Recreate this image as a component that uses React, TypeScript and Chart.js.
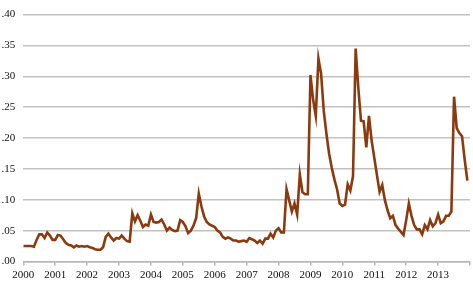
import React, { useEffect, useRef } from "react";
import { Chart, registerables } from "chart.js";

Chart.register(...registerables);

// Monthly values, Jan 2000 .. Dec 2013
const y2000 = [0.025, 0.025, 0.025, 0.025, 0.024, 0.035, 0.044, 0.044, 0.038, 0.047, 0.042, 0.035];
const y2001 = [0.035, 0.043, 0.042, 0.036, 0.030, 0.027, 0.026, 0.023, 0.026, 0.024, 0.025, 0.024];
const y2002 = [0.025, 0.023, 0.022, 0.020, 0.019, 0.019, 0.023, 0.040, 0.045, 0.039, 0.034, 0.038];
const y2003 = [0.037, 0.042, 0.037, 0.033, 0.032, 0.078, 0.065, 0.075, 0.066, 0.056, 0.060, 0.058];
const y2004 = [0.076, 0.064, 0.063, 0.064, 0.068, 0.060, 0.050, 0.055, 0.051, 0.049, 0.050, 0.067];
const y2005 = [0.064, 0.057, 0.046, 0.050, 0.058, 0.070, 0.110, 0.089, 0.073, 0.064, 0.060, 0.058];
const y2006 = [0.056, 0.050, 0.047, 0.040, 0.037, 0.039, 0.037, 0.034, 0.034, 0.032, 0.033, 0.034];
const y2007 = [0.032, 0.038, 0.036, 0.034, 0.030, 0.034, 0.029, 0.037, 0.037, 0.045, 0.039, 0.050];
const y2008 = [0.054, 0.047, 0.047, 0.117, 0.099, 0.081, 0.094, 0.076, 0.141, 0.112, 0.109, 0.109];
const y2009 = [0.302, 0.262, 0.236, 0.329, 0.304, 0.244, 0.207, 0.175, 0.152, 0.133, 0.117, 0.094];
const y2010 = [0.090, 0.092, 0.125, 0.115, 0.138, 0.345, 0.281, 0.228, 0.227, 0.185, 0.236, 0.196];
const y2011 = [0.168, 0.140, 0.113, 0.124, 0.099, 0.083, 0.070, 0.074, 0.059, 0.053, 0.048, 0.043];
const y2012 = [0.067, 0.094, 0.074, 0.059, 0.052, 0.052, 0.044, 0.059, 0.052, 0.067, 0.057, 0.062];
const y2013 = [0.076, 0.062, 0.065, 0.074, 0.074, 0.081, 0.267, 0.216, 0.208, 0.203, 0.165, 0.131];

const startYear = 2000;
const endYear = 2014;
const yearValues = [y2000, y2001, y2002, y2003, y2004, y2005, y2006, y2007, y2008, y2009, y2010, y2011, y2012, y2013];
const yTickMax = 0.4;
const yTickStep = 0.05;

export default function App() {
  const ref = useRef<HTMLCanvasElement | null>(null);

  useEffect(() => {
    document.body.style.margin = "0";
    const canvas = ref.current;
    if (!canvas) return;
    const values = yearValues.flat();
    const points = values.map((v, i) => ({ x: startYear + i / 12, y: v }));
    const font = { family: "'Liberation Serif', 'Times New Roman', serif", size: 11 };
    const chart = new Chart(canvas, {
      type: "line",
      data: {
        datasets: [
          {
            data: points,
            borderColor: "#8B3A0F",
            borderWidth: 2.6,
            pointRadius: 0,
            tension: 0,
            fill: false,
          },
        ],
      },
      options: {
        animation: false,
        responsive: false,
        devicePixelRatio: 1,
        parsing: false as any,
        layout: { padding: { top: 7, right: 1.7, left: 0, bottom: 0 } },
        plugins: { legend: { display: false }, tooltip: { enabled: false } },
        scales: {
          x: {
            type: "linear",
            min: startYear,
            max: endYear,
            ticks: {
              stepSize: 1,
              color: "#111",
              font,
              padding: 3,
              maxRotation: 0,
              autoSkip: false,
              callback: (v: any) => (Number(v) >= endYear ? "" : String(v)),
            },
            grid: { drawOnChartArea: false, drawTicks: true, tickLength: 4, color: "#b5b5b5", lineWidth: 1.5 },
            border: { display: true, color: "#b5b5b5", width: 1.5 },
            afterFit: (s: any) => {
              s.height = 21.5;
            },
          },
          y: {
            min: 0,
            max: yTickMax,
            ticks: {
              stepSize: yTickStep,
              color: "#111",
              font,
              padding: 8,
              callback: (v: any) => Number(v).toFixed(2).replace(/^0/, ""),
            },
            grid: { drawTicks: false, color: "#c2c2c2", lineWidth: 1.5 },
            border: { display: false },
            afterFit: (s: any) => {
              s.width = 23.3;
            },
          },
        },
      },
    });
    return () => chart.destroy();
  }, []);

  return <canvas ref={ref} width={473} height={283} style={{ display: "block", width: 473, height: 283 }} />;
}
